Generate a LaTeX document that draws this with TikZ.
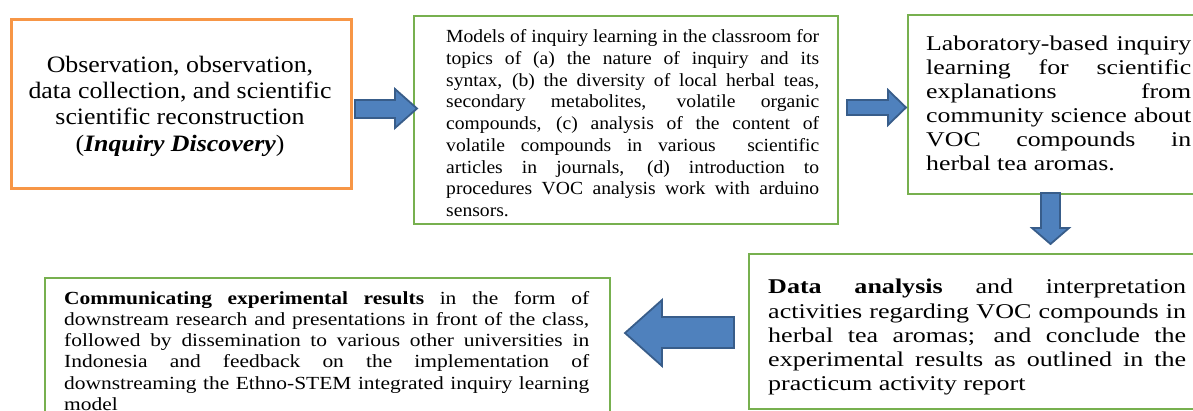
\documentclass[tikz,border=0pt]{standalone}
\usepackage{fontspec}
\setmainfont{Liberation Serif}
% wider cuts of the same serif, one per text block
\newfontfamily\serifA[FakeStretch=1.10]{Liberation Serif}
\newfontfamily\serifB[FakeStretch=1.06]{Liberation Serif}
\newfontfamily\serifC[FakeStretch=1.23]{Liberation Serif}
\newfontfamily\serifD[FakeStretch=1.24]{Liberation Serif}
\newfontfamily\serifE[FakeStretch=1.16]{Liberation Serif}
% one justified line of a given width, and a closing line
\newcommand{\fullline}[2]{\hbox to #1{#2}}
\newcommand{\lastline}[1]{\hbox{#1}}
\definecolor{boxgreen}{HTML}{77B04F}
\definecolor{boxorange}{HTML}{F79646}
\definecolor{arrowfill}{HTML}{4F81BD}
\definecolor{arrowline}{HTML}{385D8A}
\tikzset{
  frame/.style={draw=boxgreen, line width=2pt, fill=white, inner sep=0pt, anchor=north west},
  startframe/.style={frame, draw=boxorange, line width=3.2pt},
  blockarrow/.style={fill=arrowfill, draw=arrowline, line width=1.8pt, line join=miter},
  para/.style={inner sep=0pt, anchor=north west},
}
\begin{document}
\begin{tikzpicture}[x=1pt,y=-1pt]
\useasboundingbox (0,0) rectangle (1193,410);
\clip (0,0) rectangle (1193,410);

% frames of the five stages
\node[startframe, minimum width=340pt, minimum height=169pt] (b1) at (10,18) {};
\node[frame, minimum width=424pt, minimum height=208pt] (b2) at (413,15) {};
\node[frame, minimum width=300pt, minimum height=179pt] (b3) at (907,14) {};
\node[frame, minimum width=460pt, minimum height=155pt] (b4) at (748,253) {};
\node[frame, minimum width=565pt, minimum height=150pt] (b5) at (44,277) {};

% stage texts
\node[inner sep=0pt, align=center, font=\serifA\fontsize{23.5pt}{26.3pt}\selectfont] (t1) at (180,106)
  {Observation, observation,\\ data collection, and scientific\\ scientific reconstruction\\ (\textbf{\textit{Inquiry Discovery}})};

\node[para, font=\serifB\fontsize{18.5pt}{21.75pt}\selectfont] (t2) at (446,29.5)
  {\vbox{%
   \fullline{373pt}{Models of inquiry learning in the classroom for}
   \fullline{373pt}{topics of (a) the nature of inquiry and its}
   \fullline{373pt}{syntax, (b) the diversity of local herbal teas,}
   \fullline{373pt}{secondary metabolites, volatile organic}
   \fullline{373pt}{compounds, (c) analysis of the content of}
   \fullline{373pt}{volatile compounds in various\ \ scientific}
   \fullline{373pt}{articles in journals, (d) introduction to}
   \fullline{373pt}{procedures VOC analysis work with arduino}
   \lastline{sensors.}}};

\node[para, font=\serifC\fontsize{21pt}{24pt}\selectfont] (t3) at (926,35.5)
  {\vbox{%
   \fullline{265pt}{Laboratory-based inquiry}
   \fullline{265pt}{learning for scientific}
   \fullline{265pt}{explanations from}
   \fullline{265pt}{community science about}
   \fullline{265pt}{VOC compounds in}
   \lastline{herbal tea aromas.}}};

\node[para, font=\serifD\fontsize{21pt}{24.3pt}\selectfont] (t4) at (768,279)
  {\vbox{%
   \fullline{418pt}{\textbf{Data analysis} and interpretation}
   \fullline{418pt}{activities regarding VOC compounds in}
   \fullline{418pt}{herbal tea aromas; and conclude the}
   \fullline{418pt}{experimental results as outlined in the}
   \lastline{practicum activity report}}};

\node[para, font=\serifE\fontsize{18.5pt}{21.2pt}\selectfont] (t5) at (64,291)
  {\vbox{%
   \fullline{525pt}{\textbf{Communicating experimental results} in the form of}
   \fullline{525pt}{downstream research and presentations in front of the class,}
   \fullline{525pt}{followed by dissemination to various other universities in}
   \fullline{525pt}{Indonesia and feedback on the implementation of}
   \fullline{525pt}{downstreaming the Ethno-STEM integrated inquiry learning}
   \lastline{model}}};

% block arrows between the stages
\draw[blockarrow] (355,100) -- (395,100) -- (395,89) -- (417,108.5) -- (395,128) -- (395,118) -- (355,118) -- cycle;
\draw[blockarrow] (847,100) -- (888,100) -- (888,90) -- (906,107.5) -- (888,125) -- (888,115) -- (847,115) -- cycle;
\draw[blockarrow] (1041,193) -- (1060,193) -- (1060,228) -- (1069,228) -- (1050.5,244) -- (1032,228) -- (1041,228) -- cycle;
\draw[blockarrow] (734,317) -- (662,317) -- (662,300) -- (625,333) -- (662,366) -- (662,348) -- (734,348) -- cycle;
\end{tikzpicture}
\end{document}
